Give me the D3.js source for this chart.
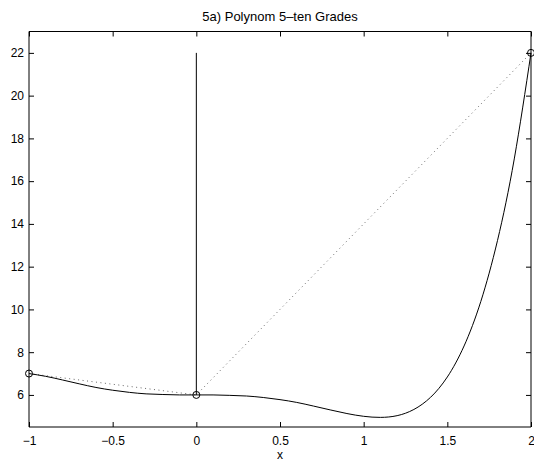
<!DOCTYPE html>
<html>
<head>
<meta charset="utf-8">
<script src="https://cdn.jsdelivr.net/npm/d3@7"></script>
<style>
  html, body { margin: 0; padding: 0; background: #fff; }
  svg { display: block; }
  text { font-family: Arial, "Liberation Sans", Helvetica, sans-serif; fill: #000; }
</style>
</head>
<body>
<svg id="chart" width="534" height="462"></svg>
<script>
// Degree-5 polynomial, sampled along x
const curveX = [-1, -0.9, -0.8, -0.7, -0.6, -0.5, -0.4, -0.3, -0.2, -0.1,
                0, 0.1, 0.2, 0.3, 0.4, 0.5, 0.6, 0.7, 0.8, 0.9,
                1.0, 1.1, 1.2, 1.3, 1.4, 1.5, 1.6, 1.7, 1.8, 1.9, 2.0];
const curveY = [7.00, 6.87, 6.70, 6.52, 6.35, 6.22, 6.12, 6.05, 6.02, 6.00,
                6.00, 6.00, 5.98, 5.95, 5.88, 5.78, 5.65, 5.48, 5.30, 5.13,
                5.00, 4.95, 5.03, 5.32, 5.89, 6.84, 8.29, 10.37, 13.23, 17.04, 22.00];

// Interpolation nodes (circles, joined by a dotted polyline)
const nodeX = [-1, 0, 2];
const nodeY = [7, 6, 22];

// Vertical segment at x = 0
const stemX = [0, 0];
const stemY = [6, 22];

const xTicks = [-1, -0.5, 0, 0.5, 1, 1.5, 2];
const yTicks = [6, 8, 10, 12, 14, 16, 18, 20, 22];

const titleText = "5a) Polynom 5\u2013ten Grades";
const xLabel = "x";

const svg = d3.select("#chart");
const plotL = 29, plotR = 531, plotT = 31.5, plotB = 427;

const x = d3.scaleLinear().domain([-1, 2]).range([plotL, plotR]);
const y = d3.scaleLinear().domain([4.5, 23]).range([plotB, plotT]);

const fmt = d3.format("~g");

// Axes box with inward ticks on all four sides
const axB = d3.axisBottom(x).tickValues(xTicks).tickFormat(fmt).tickSize(-5).tickPadding(9);
const axT = d3.axisTop(x).tickValues(xTicks).tickFormat("").tickSize(-5);
const axL = d3.axisLeft(y).tickValues(yTicks).tickFormat(fmt).tickSize(-5).tickPadding(5);
const axR = d3.axisRight(y).tickValues(yTicks).tickFormat("").tickSize(-5);

function style(g) {
  g.select(".domain").attr("stroke", "#000").attr("stroke-width", 1);
  g.selectAll(".tick line").attr("stroke", "#000").attr("stroke-width", 1);
  g.selectAll(".tick text").attr("font-size", 12).style("font-family", "Arial, 'Liberation Sans', sans-serif").attr("fill", "#000");
}

svg.append("g").attr("transform", `translate(0,${plotB})`).call(axB).call(style)
  .select(".domain").attr("d", `M${plotL},0H${plotR}`);
svg.append("g").attr("transform", `translate(0,${plotT})`).call(axT).call(style)
  .select(".domain").attr("d", `M${plotL},0H${plotR}`);
svg.append("g").attr("transform", `translate(${plotL},0)`).call(axL).call(style)
  .select(".domain").attr("d", `M0,${plotT}V${plotB}`);
svg.append("g").attr("transform", `translate(${plotR},0)`).call(axR).call(style)
  .select(".domain").attr("d", `M0,${plotT}V${plotB}`);

// Dotted polyline through the nodes
const nodes = nodeX.map((d, i) => [d, nodeY[i]]);
svg.append("path")
  .datum(nodes)
  .attr("fill", "none")
  .attr("stroke", "#666")
  .attr("stroke-width", 1)
  .attr("stroke-dasharray", "1,3.5")
  .attr("d", d3.line().x(d => x(d[0])).y(d => y(d[1])));

// Vertical stem
svg.append("path")
  .datum(stemX.map((d, i) => [d, stemY[i]]))
  .attr("fill", "none")
  .attr("stroke", "#000")
  .attr("stroke-width", 1)
  .attr("d", d3.line().x(d => x(d[0])).y(d => y(d[1])));

// Polynomial curve
const pts = curveX.map((d, i) => [d, curveY[i]]);
svg.append("path")
  .datum(pts)
  .attr("fill", "none")
  .attr("stroke", "#000")
  .attr("stroke-width", 1)
  .attr("d", d3.line().curve(d3.curveNatural).x(d => x(d[0])).y(d => y(d[1])));

// Node markers
svg.selectAll("circle.node")
  .data(nodes)
  .join("circle")
  .attr("class", "node")
  .attr("cx", d => x(d[0]))
  .attr("cy", d => y(d[1]))
  .attr("r", 3.5)
  .attr("fill", "none")
  .attr("stroke", "#000")
  .attr("stroke-width", 1);

// Title and axis label
svg.append("text")
  .attr("x", (plotL + plotR) / 2)
  .attr("y", 21)
  .attr("text-anchor", "middle")
  .attr("font-size", 13)
  .text(titleText);

svg.append("text")
  .attr("x", (plotL + plotR) / 2)
  .attr("y", 459)
  .attr("text-anchor", "middle")
  .attr("font-size", 12)
  .text(xLabel);
</script>
</body>
</html>
